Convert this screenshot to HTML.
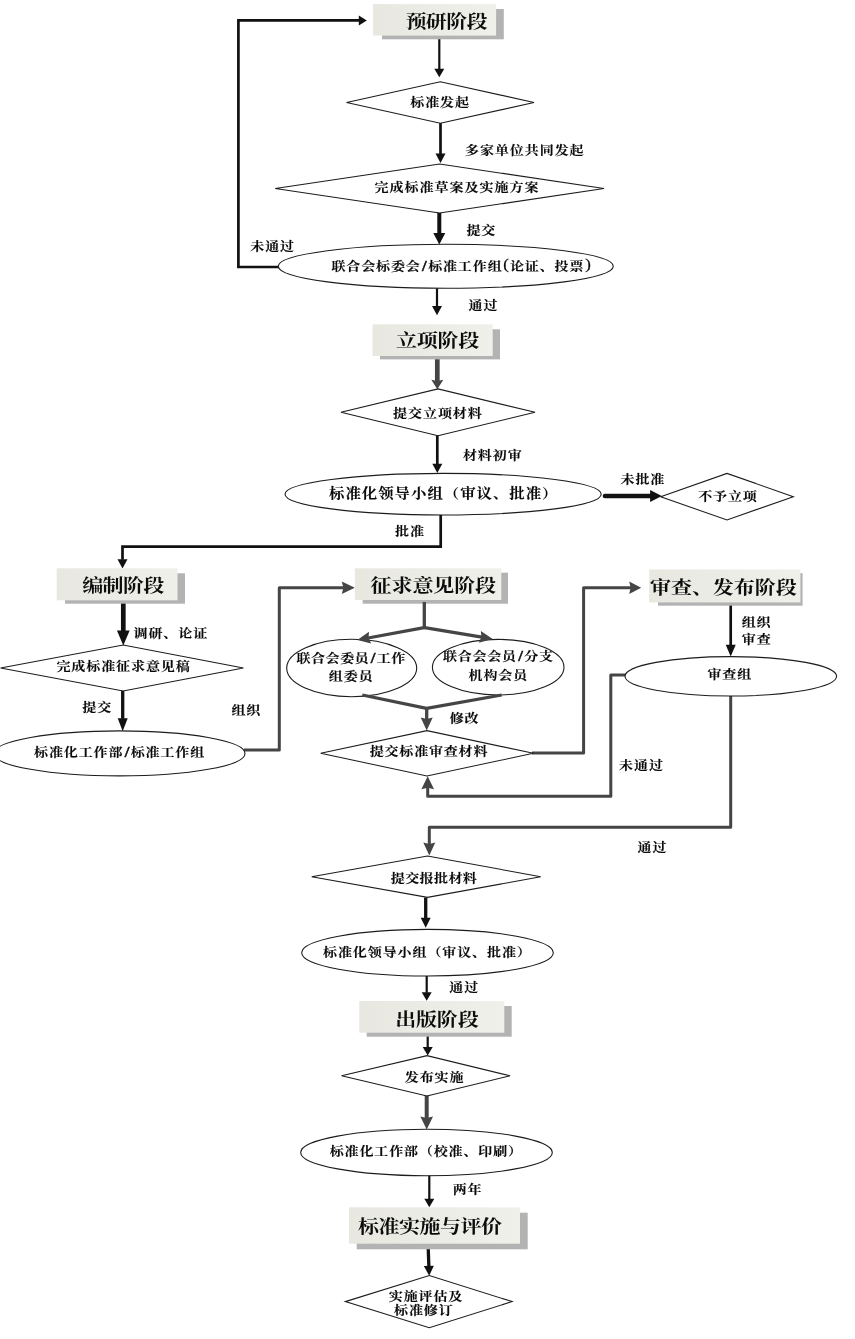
<!DOCTYPE html>
<html lang="zh-CN">
<head>
<meta charset="utf-8">
<title>标准制定流程图</title>
<style>
html,body{margin:0;padding:0;background:#fff;}
body{width:855px;height:1339px;overflow:hidden;}
svg{display:block;font-family:'Liberation Serif', 'Noto Serif CJK SC', serif;}
</style>
</head>
<body>
<svg width="855" height="1339" viewBox="0 0 855 1339">
<defs>
<linearGradient id="tg" x1="0" y1="0" x2="1" y2="0">
<stop offset="0" stop-color="#e8e8e1"/>
<stop offset="1" stop-color="#f0f0eb"/>
</linearGradient>
<filter id="soft" x="0" y="0" width="855" height="1339" filterUnits="userSpaceOnUse" color-interpolation-filters="sRGB">
<feGaussianBlur stdDeviation="0.45"/>
</filter>
</defs>
<rect x="0" y="0" width="855" height="1339" fill="#ffffff"/>
<g filter="url(#soft)">
<polyline points="280,267 238.4,267 238.4,20.4 359.3,20.4" fill="none" stroke="#111" stroke-width="2.7" stroke-linejoin="miter" stroke-linecap="butt"/>
<polygon points="366.8,20.4 358.8,25.4 358.8,15.4" fill="#111"/>
<polyline points="439.3,38 439.3,69.2" fill="none" stroke="#111" stroke-width="2.2" stroke-linejoin="miter" stroke-linecap="butt"/>
<polygon points="439.3,77.2 434.3,68.7 444.3,68.7" fill="#111"/>
<polyline points="440.5,122 440.5,154" fill="none" stroke="#111" stroke-width="2.7" stroke-linejoin="miter" stroke-linecap="butt"/>
<polygon points="440.5,163 435.5,153.5 445.5,153.5" fill="#111"/>
<polyline points="439.3,212 439.3,233.4" fill="none" stroke="#111" stroke-width="4" stroke-linejoin="miter" stroke-linecap="butt"/>
<polygon points="439.3,244.6 433.3,232.9 445.3,232.9" fill="#111"/>
<polyline points="437,287 437,306.5" fill="none" stroke="#111" stroke-width="2.2" stroke-linejoin="miter" stroke-linecap="butt"/>
<polygon points="437,315.3 432,306 442,306" fill="#111"/>
<polyline points="437.3,358 437.3,381.44" fill="none" stroke="#454545" stroke-width="4.7" stroke-linejoin="round" stroke-linecap="butt"/>
<polygon points="437.3,389.3 431.3,379.8 437.3,380.94 443.3,379.8" fill="#454545"/>
<polyline points="437.3,434 437.3,464.2" fill="none" stroke="#111" stroke-width="2.7" stroke-linejoin="miter" stroke-linecap="butt"/>
<polygon points="437.3,473 432.3,463.7 442.3,463.7" fill="#111"/>
<polyline points="605,496 650.6,496" fill="none" stroke="#111" stroke-width="4.7" stroke-linejoin="miter" stroke-linecap="round"/>
<polygon points="661.8,496 650.1,502 650.1,490" fill="#111"/>
<polyline points="440.7,514 440.7,546.7 122.5,546.7 122.5,559.7" fill="none" stroke="#111" stroke-width="2.7" stroke-linejoin="miter" stroke-linecap="butt"/>
<polygon points="122.5,568.5 117.5,559.2 127.5,559.2" fill="#111"/>
<polyline points="123.3,602 123.3,631.1" fill="none" stroke="#111" stroke-width="4.7" stroke-linejoin="miter" stroke-linecap="butt"/>
<polygon points="123.3,645.6 116.95,630.6 129.65,630.6" fill="#111"/>
<polyline points="122.7,690 122.7,718.8" fill="none" stroke="#111" stroke-width="3.3" stroke-linejoin="miter" stroke-linecap="butt"/>
<polygon points="122.7,731.3 117.7,718.3 127.7,718.3" fill="#111"/>
<polyline points="244,750 279.3,750 279.3,587.7 343.86,587.7" fill="none" stroke="#454545" stroke-width="3" stroke-linejoin="round" stroke-linecap="butt"/>
<polygon points="354.8,587.7 341.8,594 343.36,587.7 341.8,581.4" fill="#454545"/>
<polyline points="532,753 583.6,753 583.6,587.7 631.14,587.7" fill="none" stroke="#454545" stroke-width="3" stroke-linejoin="round" stroke-linecap="butt"/>
<polygon points="641.2,587.7 629.2,593.9 630.64,587.7 629.2,581.5" fill="#454545"/>
<polyline points="730.7,604 730.7,645.3" fill="none" stroke="#111" stroke-width="2.7" stroke-linejoin="miter" stroke-linecap="butt"/>
<polygon points="730.7,656.5 725.7,644.8 735.7,644.8" fill="#111"/>
<polyline points="626,675 610.8,675 610.8,796.3 427.7,796.3 427.7,787.14" fill="none" stroke="#454545" stroke-width="3" stroke-linejoin="round" stroke-linecap="butt"/>
<polygon points="427.7,776.2 434.05,789.2 427.7,787.64 421.35,789.2" fill="#454545"/>
<polyline points="730.7,695 730.7,827.3 429.3,827.3 429.3,844.56" fill="none" stroke="#454545" stroke-width="3" stroke-linejoin="round" stroke-linecap="butt"/>
<polygon points="429.3,855.5 423.3,842.5 429.3,844.06 435.3,842.5" fill="#454545"/>
<polyline points="425.7,897.5 425.7,918.3" fill="none" stroke="#111" stroke-width="3.3" stroke-linejoin="miter" stroke-linecap="butt"/>
<polygon points="425.7,927.8 420.7,917.8 430.7,917.8" fill="#111"/>
<polyline points="426.7,975 426.7,992.8" fill="none" stroke="#111" stroke-width="2.2" stroke-linejoin="miter" stroke-linecap="butt"/>
<polygon points="426.7,1000.8 421.7,992.3 431.7,992.3" fill="#111"/>
<polyline points="427.7,1035 427.7,1047.5" fill="none" stroke="#111" stroke-width="2.2" stroke-linejoin="miter" stroke-linecap="butt"/>
<polygon points="427.7,1055.5 422.7,1047 432.7,1047" fill="#111"/>
<polyline points="426.7,1095 426.7,1118.56" fill="none" stroke="#454545" stroke-width="4" stroke-linejoin="round" stroke-linecap="butt"/>
<polygon points="426.7,1129.5 420.35,1116.5 426.7,1118.06 433.05,1116.5" fill="#454545"/>
<polyline points="429.3,1175 429.3,1199.3" fill="none" stroke="#111" stroke-width="2.2" stroke-linejoin="miter" stroke-linecap="butt"/>
<polygon points="429.3,1207.3 424.3,1198.8 434.3,1198.8" fill="#111"/>
<polyline points="428.2,1248 428.86,1266.31" fill="none" stroke="#111" stroke-width="3.3" stroke-linejoin="miter" stroke-linecap="butt"/>
<polygon points="429.2,1275.8 423.84,1265.99 433.84,1265.63" fill="#111"/>
<rect x="382" y="9" width="121.8" height="30.3" fill="#b3b3b3"/>
<rect x="373.1" y="4.1" width="123" height="31.5" fill="url(#tg)"/>
<text font-size="21" font-weight="700" fill="#0c0c0c" transform="matrix(1 0 0 0.86 0 3.91)"><tspan x="405.44 425.84 446.24 466.64" y="27.93">预研阶段</tspan></text>
<rect x="380" y="329.3" width="120" height="30.1" fill="#b3b3b3"/>
<rect x="372.5" y="324.3" width="120.2" height="31.7" fill="url(#tg)"/>
<text font-size="21" font-weight="700" fill="#0c0c0c" transform="matrix(1 0 0 0.86 0 48.53)"><tspan x="396.11 416.85 437.59 458.34" y="346.63">立项阶段</tspan></text>
<rect x="65" y="573.3" width="120" height="30.4" fill="#b3b3b3"/>
<rect x="56.7" y="568.3" width="120.8" height="32" fill="url(#tg)"/>
<text font-size="21" font-weight="700" fill="#0c0c0c" transform="matrix(1 0 0 0.86 0 82.89)"><tspan x="82.24 102.6 122.97 143.34" y="592.06">编制阶段</tspan></text>
<rect x="362.7" y="572.7" width="145.3" height="31" fill="#b3b3b3"/>
<rect x="354.9" y="568.3" width="146.4" height="31.7" fill="url(#tg)"/>
<text font-size="21" font-weight="700" fill="#0c0c0c" transform="matrix(1 0 0 0.86 0 82.94)"><tspan x="370.64 391.52 412.4 433.28 454.16 475.04" y="592.43">征求意见阶段</tspan></text>
<rect x="658" y="573.2" width="144.6" height="32.5" fill="#b3b3b3"/>
<rect x="649.2" y="569.4" width="151.2" height="33" fill="url(#tg)"/>
<text font-size="21" font-weight="700" fill="#0c0c0c" transform="matrix(1 0 0 0.86 0 83.15)"><tspan x="650.02 670.97 691.92 712.88 733.83 754.78 775.74" y="593.9">审查、发布阶段</tspan></text>
<rect x="366.7" y="1006" width="145" height="30.7" fill="#b3b3b3"/>
<rect x="359.3" y="1001" width="145" height="31.7" fill="url(#tg)"/>
<text font-size="21" font-weight="700" fill="#0c0c0c" transform="matrix(1 0 0 0.86 0 143.58)"><tspan x="395.21 416.02 436.83 457.64" y="1025.55">出版阶段</tspan></text>
<rect x="356.7" y="1212.7" width="171" height="36.6" fill="#b3b3b3"/>
<rect x="349" y="1207.3" width="171" height="36.4" fill="url(#tg)"/>
<text font-size="21" font-weight="700" fill="#0c0c0c" transform="matrix(1 0 0 0.86 0 172.58)"><tspan x="357.96 378.47 398.97 419.48 439.98 460.49 480.99" y="1232.7">标准实施与评价</tspan></text>
<polygon points="346.6,102.5 440.3,81.7 534,102.5 440.3,123.3" fill="#fff" stroke="#1c1c1c" stroke-width="1.1"/>
<polygon points="275.2,188.5 439.6,164 604,188.5 439.6,213" fill="#fff" stroke="#1c1c1c" stroke-width="1.1"/>
<polygon points="341,412.3 438,388.9 535,412.3 438,435.7" fill="#fff" stroke="#1c1c1c" stroke-width="1.1"/>
<polygon points="660.7,496.7 727,473.4 793.3,496.7 727,520" fill="#fff" stroke="#1c1c1c" stroke-width="1.1"/>
<polygon points="0.6,668 123.2,645 243.4,668 123.2,691" fill="#fff" stroke="#1c1c1c" stroke-width="1.1"/>
<polygon points="320.7,753.3 427,730.6 533.3,753.3 427,776" fill="#fff" stroke="#1c1c1c" stroke-width="1.1"/>
<polygon points="311.7,876.7 427.5,856 540.7,876.7 427.5,897.4" fill="#fff" stroke="#1c1c1c" stroke-width="1.1"/>
<polygon points="341.6,1075.8 427,1055.6 510,1075.8 427,1096" fill="#fff" stroke="#1c1c1c" stroke-width="1.1"/>
<polygon points="345.3,1301.6 429.3,1275.5 512.1,1301.6 429.3,1327.7" fill="#fff" stroke="#1c1c1c" stroke-width="1.1"/>
<ellipse cx="445.8" cy="266.3" rx="167.5" ry="22" fill="#fff" stroke="#1c1c1c" stroke-width="1.1"/>
<ellipse cx="443.1" cy="494.2" rx="158.1" ry="20.8" fill="#fff" stroke="#1c1c1c" stroke-width="1.1"/>
<ellipse cx="119.4" cy="753.4" rx="125.6" ry="22.5" fill="#fff" stroke="#1c1c1c" stroke-width="1.1"/>
<ellipse cx="351.7" cy="668" rx="65" ry="28.7" fill="#fff" stroke="#1c1c1c" stroke-width="1.1"/>
<ellipse cx="498.2" cy="667.2" rx="65.8" ry="27.8" fill="#fff" stroke="#1c1c1c" stroke-width="1.1"/>
<ellipse cx="730.8" cy="676.3" rx="105.8" ry="19.7" fill="#fff" stroke="#1c1c1c" stroke-width="1.1"/>
<ellipse cx="427.5" cy="952.7" rx="125.8" ry="23.3" fill="#fff" stroke="#1c1c1c" stroke-width="1.1"/>
<ellipse cx="426.5" cy="1152.5" rx="125.8" ry="23.2" fill="#fff" stroke="#1c1c1c" stroke-width="1.1"/>
<polyline points="424.3,602 424.3,627.3" fill="none" stroke="#454545" stroke-width="3.3" stroke-linejoin="round" stroke-linecap="butt"/>
<polyline points="425.5,627.3 368.06,638" fill="none" stroke="#454545" stroke-width="3.3" stroke-linejoin="round" stroke-linecap="butt"/>
<polygon points="357.3,640 368.98,631.72 368.55,637.91 371.18,643.52" fill="#454545"/>
<polyline points="423.1,627.3 481.91,637.19" fill="none" stroke="#454545" stroke-width="3.3" stroke-linejoin="round" stroke-linecap="butt"/>
<polygon points="492.7,639 478.89,642.76 481.42,637.1 480.87,630.93" fill="#454545"/>
<polyline points="362.3,695 426.6,708.3 501.7,695" fill="none" stroke="#454545" stroke-width="3.3" stroke-linejoin="round" stroke-linecap="butt"/>
<polyline points="426.7,707 426.7,719.46" fill="none" stroke="#454545" stroke-width="3.3" stroke-linejoin="round" stroke-linecap="butt"/>
<polygon points="426.7,730.4 420.7,717.4 426.7,718.96 432.7,717.4" fill="#454545"/>
<text font-size="14" font-weight="700" fill="#0a0a0a" stroke="#0a0a0a" stroke-width="0.12" transform="matrix(1 0 0 0.87 0 13.97)"><tspan x="410.32 425.22 440.12 455.02" y="107.46">标准发起</tspan></text>
<text font-size="14" font-weight="700" fill="#0a0a0a" stroke="#0a0a0a" stroke-width="0.12" transform="matrix(1 0 0 0.87 0 20.09)"><tspan x="465.11 480.03 494.96 509.88 524.8 539.72 554.64 569.57" y="154.52">多家单位共同发起</tspan></text>
<text font-size="14" font-weight="700" fill="#0a0a0a" stroke="#0a0a0a" stroke-width="0.12" transform="matrix(1 0 0 0.87 0 24.96)"><tspan x="374.59 389.59 404.59 419.59 434.59 449.59 464.59 479.59 494.59 509.59 524.59" y="191.99">完成标准草案及实施方案</tspan></text>
<text font-size="14" font-weight="700" fill="#0a0a0a" stroke="#0a0a0a" stroke-width="0.12" transform="matrix(1 0 0 0.87 0 30.55)"><tspan x="466.39 481.29" y="234.98">提交</tspan></text>
<text font-size="14" font-weight="700" fill="#0a0a0a" stroke="#0a0a0a" stroke-width="0.12" transform="matrix(1 0 0 0.87 0 32.63)"><tspan x="250.26 265.16 280.06" y="250.98">未通过</tspan></text>
<text font-size="14" font-weight="700" fill="#0a0a0a" stroke="#0a0a0a" stroke-width="0.12" transform="matrix(1 0 0 0.87 0 35.18)"><tspan x="331.43 346.31 361.19 376.06 390.94 405.81" y="270.59">联合会标委会</tspan><tspan x="422.07" y="270.65" font-size="16.8" stroke-width="0.5">/</tspan><tspan x="428.13 443 457.88 472.75 487.63" y="270.59">标准工作组</tspan><tspan x="503.33" y="269.24" font-size="16.8" font-weight="400" stroke-width="0.3">(</tspan><tspan x="509.94 524.82 539.7 554.57 569.45" y="270.59">论证、投票</tspan><tspan x="585.34" y="269.24" font-size="16.8" font-weight="400" stroke-width="0.3">)</tspan></text>
<text font-size="14" font-weight="700" fill="#0a0a0a" stroke="#0a0a0a" stroke-width="0.12" transform="matrix(1 0 0 0.87 0 40.32)"><tspan x="468.56 483.46" y="310.13">通过</tspan></text>
<text font-size="14" font-weight="700" fill="#0a0a0a" stroke="#0a0a0a" stroke-width="0.12" transform="matrix(1 0 0 0.87 0 54.38)"><tspan x="393.02 407.98 422.94 437.9 452.85 467.81" y="418.31">提交立项材料</tspan></text>
<text font-size="14" font-weight="700" fill="#0a0a0a" stroke="#0a0a0a" stroke-width="0.12" transform="matrix(1 0 0 0.87 0 59.75)"><tspan x="462.97 477.87 492.77 507.67" y="459.65">材料初审</tspan></text>
<text font-size="15.4" font-weight="700" fill="#0a0a0a" stroke="#0a0a0a" stroke-width="0.12" transform="matrix(1 0 0 0.87 0 64.8)"><tspan x="329.05 345.44 361.83 378.22 394.6 410.99 427.38 443.76 460.15 476.54 492.93 509.31 525.7 542.09" y="498.43">标准化领导小组（审议、批准）</tspan></text>
<text font-size="14" font-weight="700" fill="#0a0a0a" stroke="#0a0a0a" stroke-width="0.12" transform="matrix(1 0 0 0.87 0 62.86)"><tspan x="620.55 635.45 650.35" y="483.51">未批准</tspan></text>
<text font-size="14" font-weight="700" fill="#0a0a0a" stroke="#0a0a0a" stroke-width="0.12" transform="matrix(1 0 0 0.87 0 65.19)"><tspan x="698.17 713.07 727.97 742.87" y="501.45">不予立项</tspan></text>
<text font-size="14" font-weight="700" fill="#0a0a0a" stroke="#0a0a0a" stroke-width="0.12" transform="matrix(1 0 0 0.87 0 69.68)"><tspan x="395.01 409.91" y="536.01">批准</tspan></text>
<text font-size="14" font-weight="700" fill="#0a0a0a" stroke="#0a0a0a" stroke-width="0.12" transform="matrix(1 0 0 0.87 0 82.89)"><tspan x="133.54 148.44 163.34 178.24 193.14" y="637.62">调研、论证</tspan></text>
<text font-size="14" font-weight="700" fill="#0a0a0a" stroke="#0a0a0a" stroke-width="0.12" transform="matrix(1 0 0 0.87 0 87.22)"><tspan x="56.39 71.32 86.24 101.16 116.08 131 145.92 160.84 175.77" y="670.95">完成标准征求意见稿</tspan></text>
<text font-size="14" font-weight="700" fill="#0a0a0a" stroke="#0a0a0a" stroke-width="0.12" transform="matrix(1 0 0 0.87 0 92.51)"><tspan x="82.24 97.14" y="711.63">提交</tspan></text>
<text font-size="14" font-weight="700" fill="#0a0a0a" stroke="#0a0a0a" stroke-width="0.12" transform="matrix(1 0 0 0.87 0 92.95)"><tspan x="231.42 246.32" y="714.97">组织</tspan></text>
<text font-size="14" font-weight="700" fill="#0a0a0a" stroke="#0a0a0a" stroke-width="0.12" transform="matrix(1 0 0 0.87 0 98.36)"><tspan x="34.08 48.95 63.82 78.69 93.56 108.43" y="756.65">标准化工作部</tspan><tspan x="124.68" y="756.76" font-size="16.8" stroke-width="0.5">/</tspan><tspan x="130.73 145.6 160.47 175.34 190.21" y="756.65">标准工作组</tspan></text>
<text font-size="14" font-weight="700" fill="#0a0a0a" stroke="#0a0a0a" stroke-width="0.12" transform="matrix(1 0 0 0.87 0 86.19)"><tspan x="296.43 311.03 325.63 340.23 354.83" y="663.01">联合会委员</tspan><tspan x="370.74" y="663.1" font-size="16.8" stroke-width="0.5">/</tspan><tspan x="376.72 391.32" y="663.01">工作</tspan></text>
<text font-size="14" font-weight="700" fill="#0a0a0a" stroke="#0a0a0a" stroke-width="0.12" transform="matrix(1 0 0 0.87 0 88.57)"><tspan x="328.86 343.76 358.66" y="681.28">组委员</tspan></text>
<text font-size="14" font-weight="700" fill="#0a0a0a" stroke="#0a0a0a" stroke-width="0.12" transform="matrix(1 0 0 0.87 0 85.97)"><tspan x="443.03 457.8 472.57 487.34 502.11" y="661.31">联合会会员</tspan><tspan x="518.24" y="661.4" font-size="16.8" stroke-width="0.5">/</tspan><tspan x="524.27 539.04" y="661.31">分支</tspan></text>
<text font-size="14" font-weight="700" fill="#0a0a0a" stroke="#0a0a0a" stroke-width="0.12" transform="matrix(1 0 0 0.87 0 88.46)"><tspan x="468.53 483.43 498.33 513.23" y="680.45">机构会员</tspan></text>
<text font-size="14" font-weight="700" fill="#0a0a0a" stroke="#0a0a0a" stroke-width="0.12" transform="matrix(1 0 0 0.87 0 93.99)"><tspan x="449.69 464.59" y="722.99">修改</tspan></text>
<text font-size="14" font-weight="700" fill="#0a0a0a" stroke="#0a0a0a" stroke-width="0.12" transform="matrix(1 0 0 0.87 0 81.46)"><tspan x="741.72 756.62" y="626.62">组织</tspan></text>
<text font-size="14" font-weight="700" fill="#0a0a0a" stroke="#0a0a0a" stroke-width="0.12" transform="matrix(1 0 0 0.87 0 83.66)"><tspan x="741.74 756.64" y="643.51">审查</tspan></text>
<text font-size="14" font-weight="700" fill="#0a0a0a" stroke="#0a0a0a" stroke-width="0.12" transform="matrix(1 0 0 0.87 0 88.31)"><tspan x="707.39 722.29 737.19" y="679.31">审查组</tspan></text>
<text font-size="14" font-weight="700" fill="#0a0a0a" stroke="#0a0a0a" stroke-width="0.12" transform="matrix(1 0 0 0.87 0 98.32)"><tspan x="369.72 384.53 399.35 414.16 428.97 443.79 458.6 473.41" y="756.3">提交标准审查材料</tspan></text>
<text font-size="14" font-weight="700" fill="#0a0a0a" stroke="#0a0a0a" stroke-width="0.12" transform="matrix(1 0 0 0.87 0 100.12)"><tspan x="619.11 634.01 648.91" y="770.13">未通过</tspan></text>
<text font-size="14" font-weight="700" fill="#0a0a0a" stroke="#0a0a0a" stroke-width="0.12" transform="matrix(1 0 0 0.87 0 110.71)"><tspan x="637.56 652.46" y="851.63">通过</tspan></text>
<text font-size="14" font-weight="700" fill="#0a0a0a" stroke="#0a0a0a" stroke-width="0.12" transform="matrix(1 0 0 0.87 0 114.78)"><tspan x="390.72 405.14 419.56 433.98 448.39 462.81" y="882.96">提交报批材料</tspan></text>
<text font-size="14" font-weight="700" fill="#0a0a0a" stroke="#0a0a0a" stroke-width="0.12" transform="matrix(1 0 0 0.87 0 124.41)"><tspan x="323.08 337.98 352.88 367.78 382.68 397.58 412.48 427.38 442.28 457.18 472.09 486.99 501.89 516.79" y="957.01">标准化领导小组（审议、批准）</tspan></text>
<text font-size="14" font-weight="700" fill="#0a0a0a" stroke="#0a0a0a" stroke-width="0.12" transform="matrix(1 0 0 0.87 0 129.02)"><tspan x="449.36 464.26" y="992.48">通过</tspan></text>
<text font-size="14" font-weight="700" fill="#0a0a0a" stroke="#0a0a0a" stroke-width="0.12" transform="matrix(1 0 0 0.87 0 140.66)"><tspan x="404.76 419.66 434.56 449.46" y="1082">发布实施</tspan></text>
<text font-size="14" font-weight="700" fill="#0a0a0a" stroke="#0a0a0a" stroke-width="0.12" transform="matrix(1 0 0 0.87 0 150.32)"><tspan x="329.78 344.63 359.48 374.33 389.18 404.03 418.88 433.73 448.58 463.44 478.29 493.14 507.99" y="1156.3">标准化工作部（校准、印刷）</tspan></text>
<text font-size="14" font-weight="700" fill="#0a0a0a" stroke="#0a0a0a" stroke-width="0.12" transform="matrix(1 0 0 0.87 0 155.24)"><tspan x="452.64 467.54" y="1194.19">两年</tspan></text>
<text font-size="14" font-weight="700" fill="#0a0a0a" stroke="#0a0a0a" stroke-width="0.12" transform="matrix(1 0 0 0.87 0 169.08)"><tspan x="388.74 403.64 418.54 433.44 448.34" y="1300.63">实施评估及</tspan></text>
<text font-size="14" font-weight="700" fill="#0a0a0a" stroke="#0a0a0a" stroke-width="0.12" transform="matrix(1 0 0 0.87 0 170.97)"><tspan x="394.05 408.95 423.85 438.75" y="1315.16">标准修订</tspan></text>
</g>
</svg>
</body>
</html>
